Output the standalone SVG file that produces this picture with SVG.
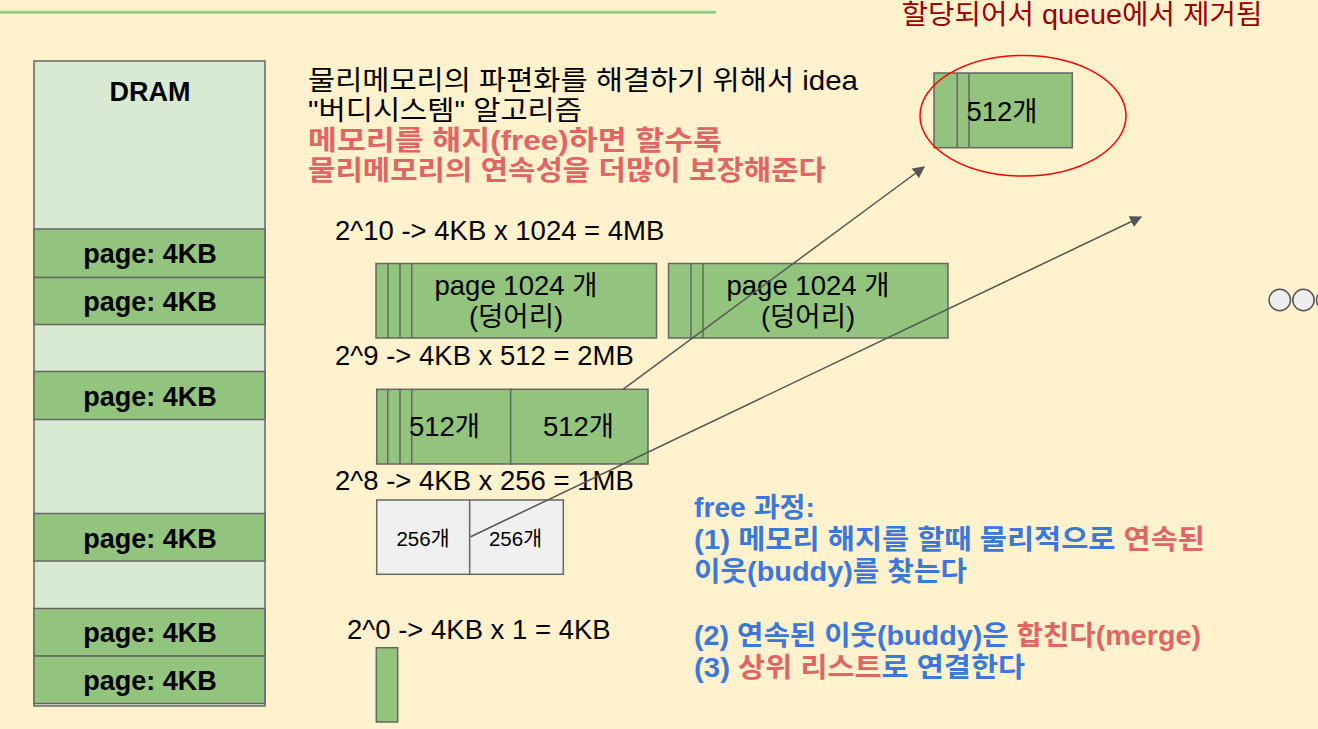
<svg xmlns="http://www.w3.org/2000/svg" width="1318" height="729" viewBox="0 0 1318 729">
<defs>
<style>
text{font-family:"Liberation Sans","Noto Sans CJK KR",sans-serif;}
.t{font-size:27.5px;fill:#000;}
.b{font-weight:bold;}
.red{fill:#e06666;}
.blue{fill:#3c78d8;}
.dram{fill:#d9ead3;stroke:#666;stroke-width:1.5;}
.pg{fill:#93c47d;stroke:#666;stroke-width:1.5;}
.gray{fill:#f0f0f0;stroke:#666;stroke-width:1.5;}
.ln{stroke:#666;stroke-width:1.5;fill:none;}
.pt{font-size:27px;font-weight:bold;text-anchor:middle;}
.c{text-anchor:middle;}
.conn{stroke:#555;stroke-width:1.5;fill:none;marker-end:url(#ah);}
.circ{fill:#eeeeee;stroke:#555;stroke-width:1.5;}
</style>
<marker id="ah" viewBox="0 0 10 10" refX="9" refY="5" markerWidth="8" markerHeight="8" markerUnits="strokeWidth" orient="auto">
<path d="M0,0 L10,5 L0,10 Z" fill="#555"/>
</marker>
</defs>
<rect x="0" y="0" width="1318" height="729" fill="#fff2cc"/>
<g id="topline">
<line x1="0" y1="12.2" x2="716" y2="12.2" stroke="#b9d99c" stroke-width="3.6"/>
<line x1="0" y1="12.2" x2="716" y2="12.2" stroke="#93c47d" stroke-width="1.6"/>
</g>
<g id="dram">
<rect class="dram" x="34" y="61" width="231" height="645"/>
<text class="t b c" x="150" y="101" style="font-size:27px">DRAM</text>
</g>
<g id="page1"><rect class="pg" x="34" y="229" width="231" height="48.5"/><text class="t pt" x="150" y="263">page: 4KB</text></g>
<g id="page2"><rect class="pg" x="34" y="277.5" width="231" height="47"/><text class="t pt" x="150" y="311">page: 4KB</text></g>
<g id="page3"><rect class="pg" x="34" y="371.5" width="231" height="48"/><text class="t pt" x="150" y="406">page: 4KB</text></g>
<g id="page4"><rect class="pg" x="34" y="513.5" width="231" height="47.5"/><text class="t pt" x="150" y="548">page: 4KB</text></g>
<g id="page5"><rect class="pg" x="34" y="608.5" width="231" height="47.5"/><text class="t pt" x="150" y="642">page: 4KB</text></g>
<g id="page6"><rect class="pg" x="34" y="656" width="231" height="47.5"/><text class="t pt" x="150" y="690">page: 4KB</text></g>
<g id="intro">
<text class="t" x="308" y="90" textLength="550" lengthAdjust="spacingAndGlyphs">물리메모리의 파편화를 해결하기 위해서 idea</text>
<text class="t" x="308" y="120" textLength="274" lengthAdjust="spacingAndGlyphs">"버디시스템" 알고리즘</text>
<text class="t b red" x="308" y="150" textLength="414" lengthAdjust="spacingAndGlyphs">메모리를 해지(free)하면 할수록</text>
<text class="t b red" x="308" y="180" textLength="518" lengthAdjust="spacingAndGlyphs">물리메모리의 연속성을 더많이 보장해준다</text>
</g>
<g id="label-2-10"><text class="t" x="335" y="240">2^10 -&gt; 4KB x 1024 = 4MB</text></g>
<g id="block1024a">
<rect class="pg" x="376" y="263.5" width="280.5" height="74.5"/>
<line class="ln" x1="388" y1="263.5" x2="388" y2="338"/>
<line class="ln" x1="400" y1="263.5" x2="400" y2="338"/>
<line class="ln" x1="411.7" y1="263.5" x2="411.7" y2="338"/>
<text class="t c" x="516" y="295">page 1024 개</text>
<text class="t c" x="516" y="326">(덩어리)</text>
</g>
<g id="block1024b">
<rect class="pg" x="668.5" y="263.5" width="279.5" height="74.5"/>
<line class="ln" x1="691" y1="263.5" x2="691" y2="338"/>
<line class="ln" x1="703" y1="263.5" x2="703" y2="338"/>
<text class="t c" x="808" y="295">page 1024 개</text>
<text class="t c" x="808" y="326">(덩어리)</text>
</g>
<g id="label-2-9"><text class="t" x="335" y="365">2^9 -&gt; 4KB x 512 = 2MB</text></g>
<g id="block512a">
<rect class="pg" x="376.7" y="389.3" width="134" height="74.7"/>
<line class="ln" x1="387.7" y1="389.3" x2="387.7" y2="464"/>
<line class="ln" x1="400" y1="389.3" x2="400" y2="464"/>
<line class="ln" x1="411.7" y1="389.3" x2="411.7" y2="464"/>
<text class="t c" x="444.5" y="436">512개</text>
</g>
<g id="block512b">
<rect class="pg" x="510.7" y="389.3" width="137.3" height="74.7"/>
<text class="t c" x="578.5" y="436">512개</text>
</g>
<g id="label-2-8"><text class="t" x="335" y="490">2^8 -&gt; 4KB x 256 = 1MB</text></g>
<g id="block256a">
<rect class="gray" x="376.7" y="500" width="93" height="74.3"/>
<text class="t c" x="423" y="545.5" style="font-size:20.5px">256개</text>
</g>
<g id="block256b">
<rect class="gray" x="469.7" y="500" width="93.6" height="74.3"/>
<text class="t c" x="515.5" y="545.5" style="font-size:20.5px">256개</text>
</g>
<g id="label-2-0"><text class="t" x="347" y="639">2^0 -&gt; 4KB x 1 = 4KB</text></g>
<g id="block1"><rect class="pg" x="376.3" y="647.7" width="21.4" height="74.3"/></g>
<g id="removed-label"><text class="t" x="901.5" y="24" style="fill:#990000" textLength="361" lengthAdjust="spacingAndGlyphs">할당되어서 queue에서 제거됨</text></g>
<g id="allocated512">
<rect class="pg" x="934" y="73" width="138.3" height="74.7"/>
<line class="ln" x1="957.3" y1="73" x2="957.3" y2="147.7"/>
<line class="ln" x1="969" y1="73" x2="969" y2="147.7"/>
<text class="t c" x="1002" y="120.5">512개</text>
</g>
<g id="highlight"><ellipse cx="1023" cy="115.7" rx="103" ry="60.3" fill="none" stroke="#ff0000" stroke-width="1.5"/></g>
<g id="connectors">
<line class="conn" x1="623" y1="389.3" x2="924" y2="167"/>
<line class="conn" x1="470.7" y1="536.7" x2="1141" y2="217"/>
</g>
<g id="more">
<circle class="circ" cx="1279.8" cy="300" r="10.7"/>
<circle class="circ" cx="1303.5" cy="300" r="10.7"/>
<circle class="circ" cx="1327.2" cy="300" r="10.7"/>
</g>
<g id="free-process">
<text class="t b blue" x="694" y="517" textLength="121" lengthAdjust="spacingAndGlyphs">free 과정:</text>
<text class="t b blue" x="694" y="549" textLength="511" lengthAdjust="spacingAndGlyphs">(1) 메모리 해지를 할때 물리적으로 <tspan class="red">연속된</tspan></text>
<text class="t b blue" x="694" y="581" textLength="273" lengthAdjust="spacingAndGlyphs">이웃(buddy)를 찾는다</text>
<text class="t b blue" x="694" y="645" textLength="507" lengthAdjust="spacingAndGlyphs">(2) 연속된 이웃(buddy)은 <tspan class="red">합친다(merge)</tspan></text>
<text class="t b blue" x="694" y="677" textLength="331" lengthAdjust="spacingAndGlyphs">(3) <tspan class="red">상위 리스트</tspan>로 연결한다</text>
</g>
</svg>
